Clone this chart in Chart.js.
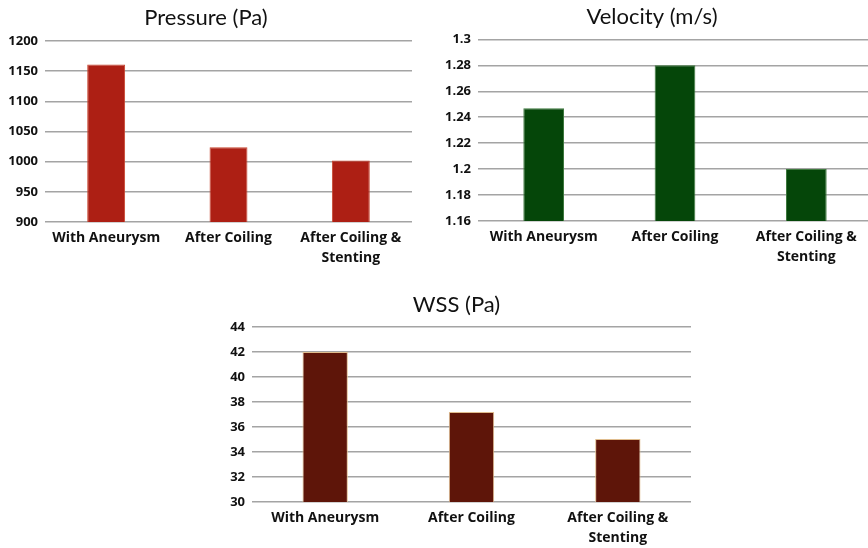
<!DOCTYPE html>
<html>
<head>
<meta charset="utf-8">
<script src="https://cdn.jsdelivr.net/npm/chart.js@4.4.0/dist/chart.umd.min.js"></script>
<style>
  html, body { margin: 0; padding: 0; background: #ffffff; width: 868px; height: 548px; overflow: hidden; position: relative; }
  canvas { position: absolute; }
</style>
</head>
<body>
<canvas id="cPressure" width="412" height="270" style="left:0px;top:0px;width:412px;height:270px"></canvas>
<canvas id="cVelocity" width="440" height="270" style="left:432px;top:0px;width:440px;height:270px"></canvas>
<canvas id="cWss" width="469" height="268" style="left:222px;top:280px;width:469px;height:268px"></canvas>
<script>
// ---- data ----
const categories = ['With Aneurysm', 'After Coiling', ['After Coiling &', 'Stenting']];

const pressureValues = [1161, 1024, 1002];
const pressureTicks = ['900', '950', '1000', '1050', '1100', '1150', '1200'];

const velocityValues = [1.247, 1.28, 1.2];
const velocityTicks = ['1.16', '1.18', '1.2', '1.22', '1.24', '1.26', '1.28', '1.3'];

const wssValues = [42.0, 37.2, 35.05];
const wssTicks = ['30', '32', '34', '36', '38', '40', '42', '44'];

const TITLE_FONT = 'Lato, "Open Sans", "DejaVu Sans", sans-serif';
const TICK_FONT = '"Open Sans", "Noto Sans", "DejaVu Sans", sans-serif';

function makeChart(id, opts) {
  const tickList = opts.ticks;
  return new Chart(document.getElementById(id), {
    type: 'bar',
    data: {
      labels: categories,
      datasets: [{
        data: opts.values,
        backgroundColor: opts.color,
        borderColor: opts.border,
        borderWidth: 1,
        barPercentage: 0.31,
        categoryPercentage: 1.0
      }]
    },
    options: {
      responsive: false,
      animation: false,
      devicePixelRatio: 1,
      layout: { padding: { left: 0, right: 0, top: 0, bottom: 0 } },
      plugins: {
        legend: { display: false },
        tooltip: { enabled: false },
        title: {
          display: true,
          text: opts.title,
          color: '#111111',
          font: { family: TITLE_FONT, size: 22, weight: 'normal', lineHeight: 1.2 },
          padding: { top: opts.titleTop, bottom: opts.titleBottom }
        }
      },
      scales: {
        x: {
          grid: { display: false, drawTicks: false },
          border: { display: false },
          ticks: {
            color: '#111111',
            font: { family: TICK_FONT, size: 14, weight: 'bold', lineHeight: 1.45 },
            padding: 6,
            maxRotation: 0,
            autoSkip: false
          },
          afterFit: (s) => { s.height = opts.xHeight; }
        },
        y: {
          min: opts.min,
          max: opts.max,
          grid: { color: '#a4a4a4', lineWidth: 1.5, drawTicks: false },
          border: { display: false },
          ticks: {
            stepSize: opts.step,
            color: '#111111',
            font: { family: TICK_FONT, size: 13, weight: 'bold' },
            padding: 7,
            callback: (v, i) => tickList[i]
          },
          afterFit: (s) => { s.width = opts.yWidth; }
        }
      }
    }
  });
}

makeChart('cPressure', {
  title: 'Pressure (Pa)', values: pressureValues, ticks: pressureTicks,
  min: 900, max: 1200, step: 50,
  color: '#ad1f14', border: '#c8452f',
  yWidth: 45, xHeight: 48, titleTop: 5, titleBottom: 9.6
});

makeChart('cVelocity', {
  title: 'Velocity (m/s)', values: velocityValues, ticks: velocityTicks,
  min: 1.16, max: 1.3, step: 0.02,
  color: '#054609', border: '#3f7a3f',
  yWidth: 46, xHeight: 49, titleTop: 4, titleBottom: 9
});

makeChart('cWss', {
  title: 'WSS (Pa)', values: wssValues, ticks: wssTicks,
  min: 30, max: 44, step: 2,
  color: '#5e1509', border: '#e0bd8e',
  yWidth: 30, xHeight: 46, titleTop: 12, titleBottom: 8.6
});
</script>
</body>
</html>
